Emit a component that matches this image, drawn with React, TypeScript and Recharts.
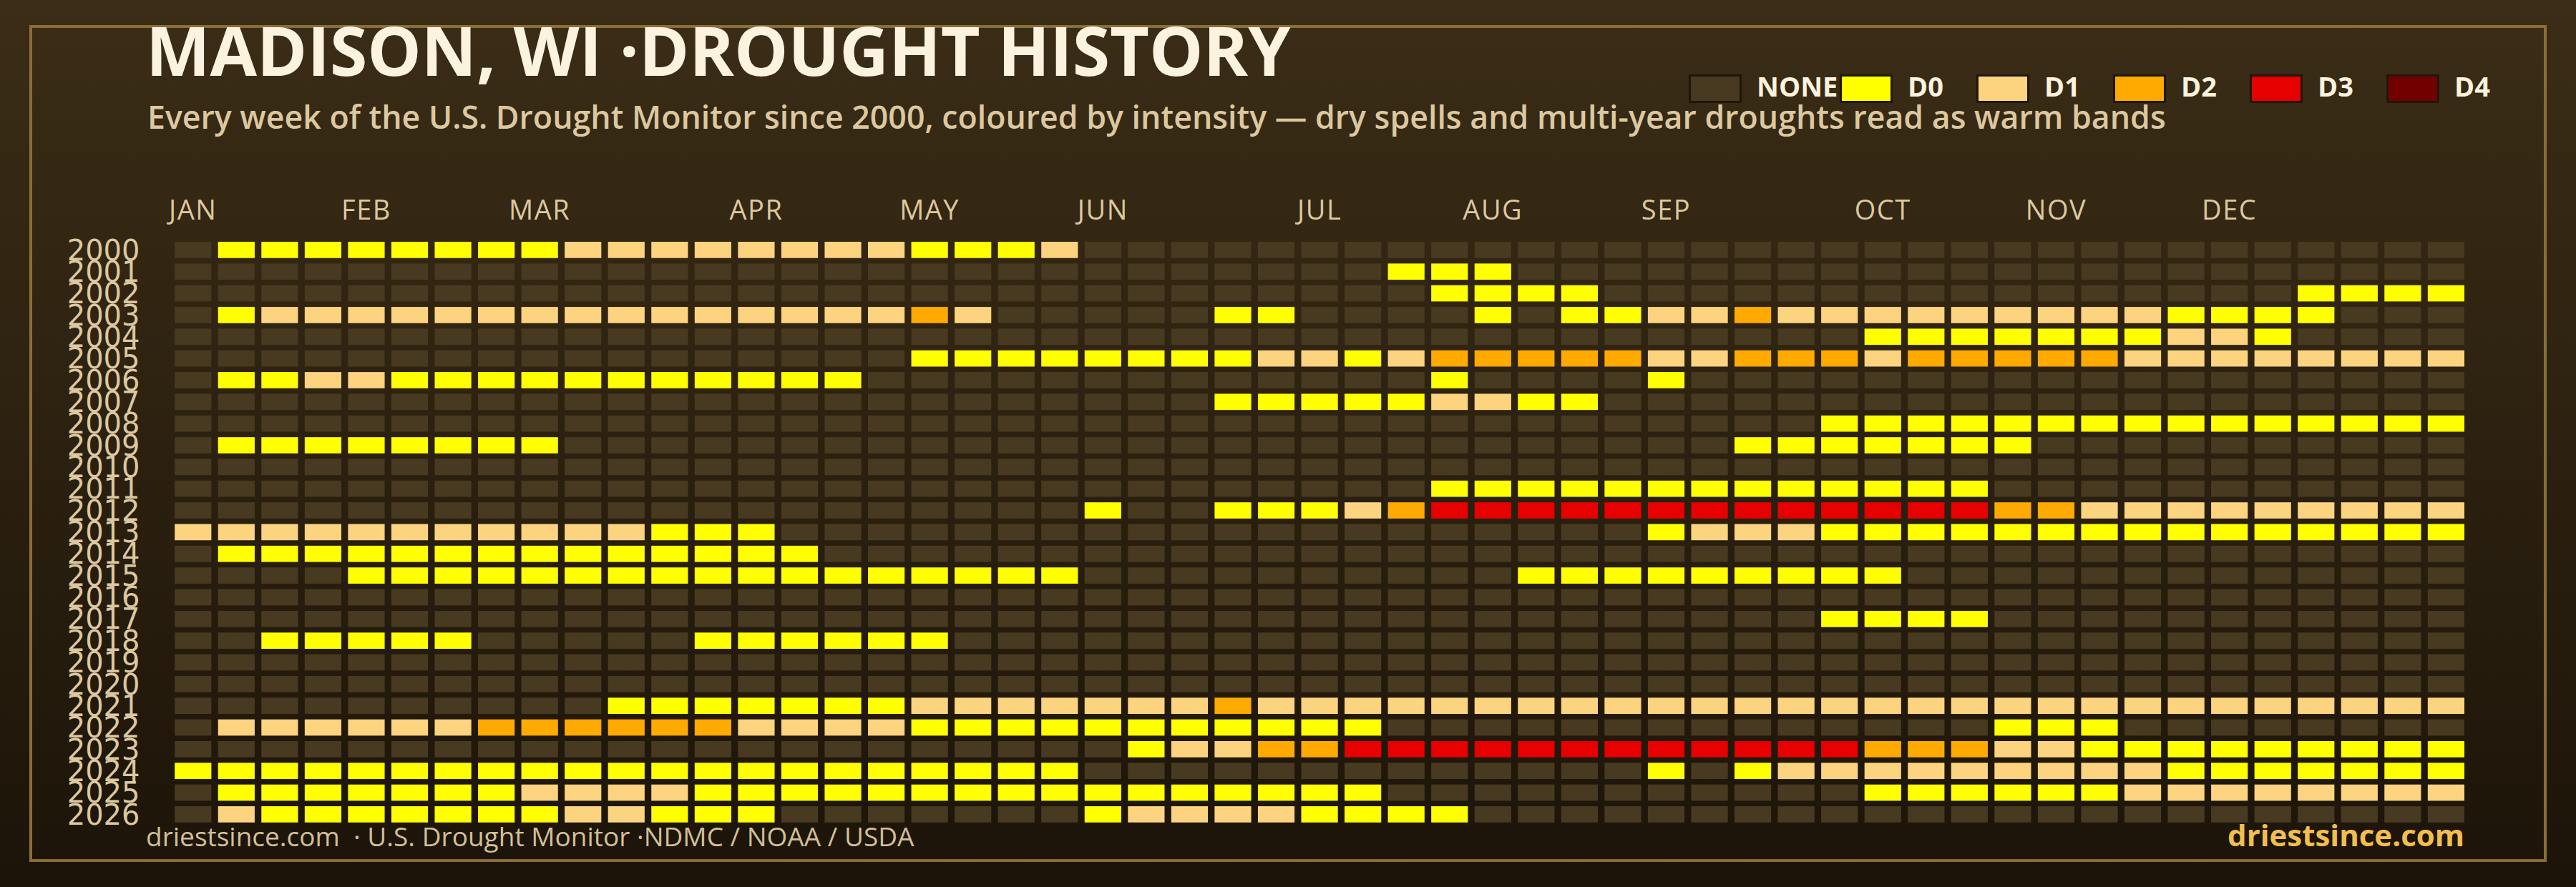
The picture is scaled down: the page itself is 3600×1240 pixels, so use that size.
import React from 'react';
import { ScatterChart, Scatter, XAxis, YAxis } from 'recharts';

const YEARS = [2000, 2001, 2002, 2003, 2004, 2005, 2006, 2007, 2008, 2009, 2010, 2011, 2012, 2013, 2014, 2015, 2016, 2017, 2018, 2019, 2020, 2021, 2022, 2023, 2024, 2025, 2026];
const WEEK_COUNT = 53;
const MONTH_WEEKS = [0, 4, 8, 13, 17, 21, 26, 30, 34, 39, 43, 47];
const MONTH_LABELS = ['JAN', 'FEB', 'MAR', 'APR', 'MAY', 'JUN', 'JUL', 'AUG', 'SEP', 'OCT', 'NOV', 'DEC'];
const LEVEL_NAMES = ['NONE', 'D0', 'D1', 'D2', 'D3', 'D4'];
const LEVEL_COLORS = ['#483a20', '#ffff00', '#fcd37f', '#ffaa00', '#e60000', '#730000'];

// drought spans per year: [firstWeek, lastWeek, level(0=D0..4=D4)]; weeks not listed = none
const SPANS_BY_YEAR: [number, number, number][][] = [
  [[1, 8, 0], [9, 16, 1], [17, 19, 0], [20, 20, 1]],
  [[28, 30, 0]],
  [[29, 32, 0], [49, 52, 0]],
  [[1, 1, 0], [2, 16, 1], [17, 17, 2], [18, 18, 1], [24, 25, 0], [30, 30, 0], [32, 33, 0], [34, 35, 1], [36, 36, 2], [37, 45, 1], [46, 49, 0]],
  [[39, 45, 0], [46, 47, 1], [48, 48, 0]],
  [[17, 24, 0], [25, 26, 1], [27, 27, 0], [28, 28, 1], [29, 33, 2], [34, 35, 1], [36, 38, 2], [39, 39, 1], [40, 44, 2], [45, 52, 1]],
  [[1, 2, 0], [3, 4, 1], [5, 15, 0], [29, 29, 0], [34, 34, 0]],
  [[24, 28, 0], [29, 30, 1], [31, 32, 0]],
  [[38, 52, 0]],
  [[1, 8, 0], [36, 42, 0]],
  [],
  [[29, 41, 0]],
  [[21, 21, 0], [24, 26, 0], [27, 27, 1], [28, 28, 2], [29, 41, 3], [42, 43, 2], [44, 52, 1]],
  [[0, 10, 1], [11, 13, 0], [34, 34, 0], [35, 37, 1], [38, 52, 0]],
  [[1, 14, 0]],
  [[4, 20, 0], [31, 39, 0]],
  [],
  [[38, 41, 0]],
  [[2, 6, 0], [12, 17, 0]],
  [],
  [],
  [[10, 16, 0], [17, 23, 1], [24, 24, 2], [25, 52, 1]],
  [[1, 6, 1], [7, 12, 2], [13, 16, 1], [17, 27, 0], [42, 44, 0]],
  [[22, 22, 0], [23, 24, 1], [25, 26, 2], [27, 38, 3], [39, 41, 2], [42, 43, 1], [44, 52, 0]],
  [[0, 20, 0], [34, 34, 0], [36, 36, 0], [37, 45, 1], [46, 52, 0]],
  [[1, 7, 0], [8, 11, 1], [12, 27, 0], [39, 44, 0], [45, 52, 1]],
  [[1, 1, 1], [2, 8, 0], [9, 10, 1], [11, 13, 0], [21, 21, 0], [22, 25, 1], [26, 29, 0]],
];

const TITLE = 'MADISON, WI ·DROUGHT HISTORY';
const SUBTITLE = 'Every week of the U.S. Drought Monitor since 2000, coloured by intensity — dry spells and multi-year droughts read as warm bands';
const SOURCE = 'driestsince.com  · U.S. Drought Monitor ·NDMC / NOAA / USDA';
const BRAND = 'driestsince.com';

type Cell = { week: number; year: number; level: number };

const cells: Cell[] = [];
YEARS.forEach((year, yi) => {
  for (let week = 0; week < WEEK_COUNT; week++) {
    let level = -1;
    for (const [a, b, l] of SPANS_BY_YEAR[yi]) {
      if (week >= a && week <= b) level = l;
    }
    cells.push({ week, year, level });
  }
});

const W = 3600;
const H = 1240;
const FONT = "'Open Sans', 'DejaVu Sans', sans-serif";
const YEAR_FONT = "'DejaVu Sans', sans-serif";
const CELL_W = 51.2;
const CELL_H = 22.7;
const TAN = '#dcc8a0';
const CREAM = '#fbf2df';

const CellShape = (props: any) => {
  const { cx, cy, payload } = props;
  if (cx == null || cy == null) return null;
  return (
    <rect
      x={cx - CELL_W / 2}
      y={cy - CELL_H / 2}
      width={CELL_W}
      height={CELL_H}
      fill={LEVEL_COLORS[payload.level + 1]}
    />
  );
};

const LegendBlock = () => {
  let x = 2360;
  const items = LEVEL_NAMES.map((name, i) => {
    const el = (
      <g key={name}>
        <rect x={x + 1.5} y={105.5} width={71} height={37} fill={LEVEL_COLORS[i]} stroke="#1f170b" strokeWidth={3} />
        <text x={x + 95} y={135} fill={CREAM} fontSize={38} fontWeight={700} fontFamily={FONT}>{name}</text>
      </g>
    );
    x += 75 + 96 + name.length * 10;
    return el;
  });
  return <g>{items}</g>;
};

export default function App() {
  return (
    <div style={{ position: 'absolute', left: 0, top: 0, width: W, height: H, background: 'linear-gradient(180deg, #3b2d16 0%, #2c2110 50%, #1c1409 100%)', overflow: 'hidden' }}>
      <div style={{ position: 'absolute', left: 0, top: 0 }}>
        <ScatterChart width={W} height={H} margin={{ top: 0, right: 151.3, bottom: 86.4, left: 0 }}>
          <XAxis
            type="number"
            dataKey="week"
            orientation="top"
            domain={[-0.5, 52.5]}
            allowDataOverflow
            ticks={MONTH_WEEKS}
            tickFormatter={(v: number) => MONTH_LABELS[MONTH_WEEKS.indexOf(v)] ?? ''}
            height={334.2}
            axisLine={false}
            tickLine={false}
            tickSize={0}
            tickMargin={27.5}
            interval={0}
            tick={{ fill: TAN, fontSize: 38, fontFamily: FONT, fontWeight: 500, letterSpacing: 1.5 }}
          />
          <YAxis
            type="number"
            dataKey="year"
            domain={[1999.5, 2026.5]}
            allowDataOverflow
            reversed
            ticks={YEARS}
            interval={0}
            width={239.5}
            axisLine={false}
            tickLine={false}
            tickSize={0}
            tickMargin={44}
            tick={{ fill: TAN, fontSize: 40, fontFamily: YEAR_FONT }}
          />
          <Scatter data={cells} shape={CellShape} isAnimationActive={false} />
        </ScatterChart>
      </div>
      <svg width={W} height={H} style={{ position: 'absolute', left: 0, top: 0, pointerEvents: 'none' }}>
        <rect x={43} y={37} width={3514} height={1166} fill="none" stroke="#8b6d38" strokeWidth={4} />
        <text x={204} y={106} fill={CREAM} fontSize={95} fontWeight={700} fontFamily={FONT}>{TITLE}</text>
        <text x={206} y={180} fill={TAN} fontSize={44.7} fontWeight={600} fontFamily={FONT}>{SUBTITLE}</text>
        <LegendBlock />
        <text x={204} y={1183} fill="#d2bf98" fontSize={37} fontFamily={FONT} style={{ whiteSpace: 'pre' }}>{SOURCE}</text>
        <text x={3444} y={1183} fill="#f2bf4e" fontSize={42} fontWeight={700} fontFamily={FONT} textAnchor="end">{BRAND}</text>
      </svg>
    </div>
  );
}
